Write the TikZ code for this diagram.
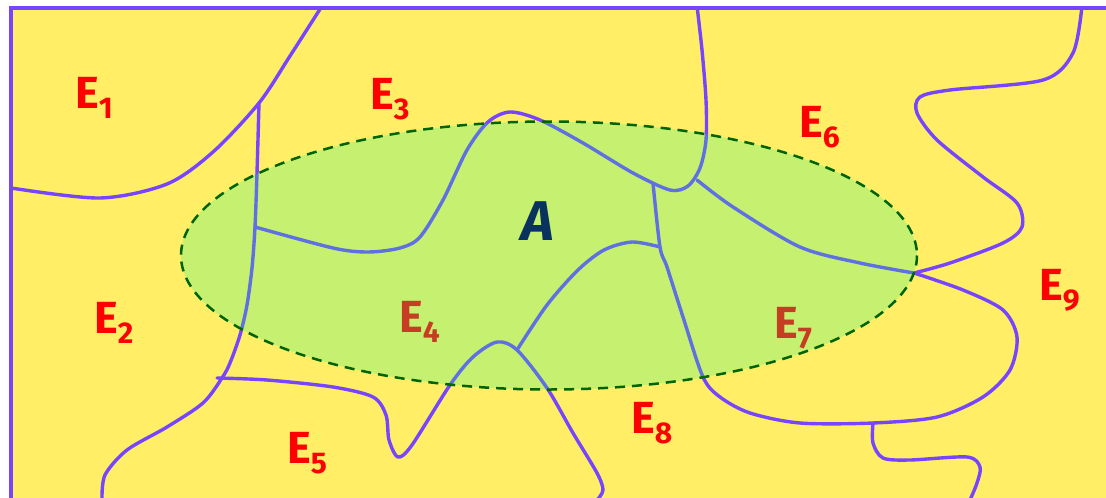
\documentclass[tikz,border=0pt]{standalone}
\usepackage{fontspec}
\setmainfont{Fira Sans}
\newfontfamily\labfont{Fira Sans}[UprightFont=* Bold, ItalicFont=* Bold Italic]
\definecolor{bgyellow}{RGB}{255,238,102}
\definecolor{bordpurple}{RGB}{119,68,255}
\definecolor{overgreen}{RGB}{27,246,142}
\definecolor{dashgreen}{RGB}{0,100,0}
\definecolor{labred}{RGB}{255,0,0}
\definecolor{navy}{RGB}{10,50,95}
\newcommand\Elab[1]{E\raisebox{-10pt}{\fontsize{30}{30}\selectfont #1}}
\tikzset{
  region/.style={draw=bordpurple, line width=3.4pt, line join=round, line cap=round},
  elabel/.style={anchor=base west, inner sep=0pt, text=labred, font=\labfont\fontsize{45}{45}\selectfont},
}
\begin{document}
\begin{tikzpicture}[x=1pt,y=-1pt]
\useasboundingbox (0,0) rectangle (1106,498);
\fill[white] (0,0) rectangle (1106,498);
\fill[bgyellow] (11,8) rectangle (1106,498);
\begin{scope}
\clip (11,8) rectangle (1106,498);
\draw[region] plot[smooth] coordinates {(322,6) (290,56) (259,103) (213,152) (167,184) (100,198) (11,188)};
\draw[region] plot[smooth] coordinates {(259,103) (257,173) (255,227) (252,268) (247,305) (240,335) (230,363) (222,378) (203,403) (167,427) (127,450) (105,475) (102,500)};
\draw[region] plot[smooth] coordinates {(255,227) (333,248) (368,252) (400,248) (420,237) (443,200) (467,150) (488,122) (510,112) (540,120) (583,143) (633,173) (670,190) (688,186) (700,168) (706,140) (706,100) (702,50) (697,6)};
\draw[region] plot[smooth] coordinates {(697,180) (733,207) (800,247) (860,263) (914,273)};
\draw[region] plot[smooth] coordinates {(914,273) (963,290) (1003,310) (1017,337) (1010,370) (983,397) (937,417) (873,423) (800,423) (750,413) (720,397) (703,377) (683,317) (667,267) (660,247) (653,183)};
\draw[region] plot[smooth] coordinates {(660,247) (632,242) (604,250) (578,270) (547,305) (517,350)};
\draw[region] plot[smooth] coordinates {(217,378) (267,380) (333,387) (373,397) (386,415) (389,440) (398,457) (412,445) (450,385) (473,357) (497,342) (517,350) (547,388) (573,433) (597,473) (603,490) (597,500)};
\draw[region] plot[smooth] coordinates {(873,423) (873,443) (883,458) (910,460) (967,457) (980,467) (977,483) (970,500)};
\draw[region] plot[smooth] coordinates {(1082,6) (1073,53) (1043,80) (950,90) (920,97) (917,113) (937,140) (983,177) (1017,203) (1022,227) (1003,243) (950,263) (914,273)};
\end{scope}
\draw[bordpurple, line width=3.4pt] (11,500) -- (11,8) -- (1106,8);
% labels
\node[elabel] (e1) at (75,108) {\Elab{1}};
\node[elabel] (e3) at (370,109) {\Elab{3}};
\node[elabel] (e6) at (799,137) {\Elab{6}};
\node[elabel] (e2) at (94,333) {\Elab{2}};
\node[elabel] (e4) at (399,332) {\Elab{4}};
\node[elabel] (e7) at (774,338) {\Elab{7}};
\node[elabel] (e5) at (287,463) {\Elab{5}};
\node[elabel] (e8) at (631,433) {\Elab{8}};
\node[elabel] (e9) at (1039,300) {\Elab{9}};
% set A
\fill[overgreen, fill opacity=0.25] (549,255.5) ellipse [x radius=368, y radius=134];
\draw[dashgreen, line width=2.5pt, dash pattern=on 10pt off 7pt] (549,255.5) ellipse [x radius=368, y radius=134];
\node[text=navy, font=\labfont\itshape\fontsize{56}{56}\selectfont, inner sep=0pt] (A) at (538,221) {A};
\end{tikzpicture}
\end{document}
